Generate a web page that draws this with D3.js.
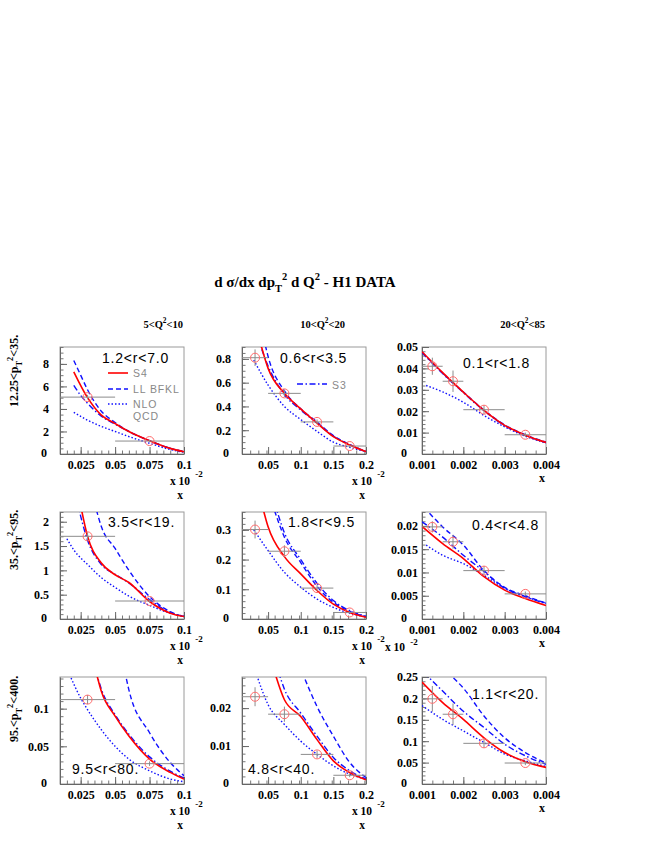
<!DOCTYPE html>
<html><head><meta charset="utf-8">
<script src="https://cdn.jsdelivr.net/npm/d3@7"></script>
<style>body{margin:0;background:#fff}svg{display:block}</style>
</head><body><svg id="c" width="654" height="846"></svg>
<script>
// ---------------- DATA ----------------
const colTitles = [["5<Q","2","<10"],["10<Q","2","<20"],["20<Q","2","<85"]];
const rowTitles = [["12.25<p","T","2","<35."],["35.<p","T","2","<95."],["95.<p","T","2","<400."]];
const rLabels = ["1.2<r<7.0","0.6<r<3.5","0.1<r<1.8","3.5<r<19.","1.8<r<9.5","0.4<r<4.8","9.5<r<80.","4.8<r<40.","1.1<r<20."];
const legendNames = ["S4","LL BFKL","NLO","QCD","S3"];

const colXDomain = [[0.01,0.1],[0.01,0.2],[0.001,0.004]];
const colXTicks = [[0.025,0.05,0.075,0.1],[0.05,0.1,0.15,0.2],[0.001,0.002,0.003,0.004]];
const colXMinor = [0.005,0.0125,0.00025];

const yMax = [9.5,0.9,0.05, 2.2,0.36,0.023, 0.142,0.0282,0.25];
const yTicks = [[0,2,4,6,8],[0,0.2,0.4,0.6,0.8],[0,0.01,0.02,0.03,0.04,0.05],
                [0,0.5,1,1.5,2],[0,0.1,0.2,0.3],[0,0.005,0.01,0.015,0.02],
                [0,0.05,0.1],[0,0.01,0.02],[0,0.05,0.1,0.15,0.2,0.25]];
const yMinor = [0.5,0.05,0.002, 0.1,0.02,0.001, 0.01,0.002,0.01];

// data points: bins and x centres by column
const colBins = [[[0.01,0.05],[0.05,0.1]],
                 [[0.01,0.05],[0.05,0.1],[0.1,0.15],[0.15,0.2]],
                 [[0.001,0.0015],[0.0015,0.002],[0.002,0.003],[0.003,0.004]]];
const colPtX = [[0.03,0.075],[0.03,0.075,0.125,0.175],[0.00125,0.00175,0.0025,0.0035]];
const dataY = [[5.05,1.15],[0.81,0.51,0.27,0.067],[0.041,0.034,0.0207,0.009],
               [1.70,0.37],[0.301,0.228,0.104,0.022],[0.0198,0.0166,0.0104,0.0054],
               [0.112,0.027],[0.023,0.0184,0.0078,0.0023],[0.199,0.163,0.095,0.049]];
const dataErr = [[0.2,0.1],[0.07,0.03,0.02,0.01],[0.004,0.005,0.002,0.001],
                 [0.08,0.03],[0.03,0.02,0.01,0.004],[0.0012,0.0015,0.001,0.0005],
                 [0.006,0.003],[0.0025,0.002,0.001,0.0005],[0.03,0.025,0.01,0.005]];

// model curves [x,y] per panel
const S4 = [
 [[0.02,7.3],[0.03,5.0],[0.04,3.45],[0.05,2.7],[0.06,2.0],[0.075,1.18],[0.09,0.5],[0.1,0.2]],
 [[0.036,0.98],[0.05,0.72],[0.075,0.51],[0.1,0.38],[0.125,0.26],[0.15,0.146],[0.175,0.076],[0.2,0.02]],
 [[0.001,0.0478],[0.0015,0.038],[0.002,0.0289],[0.0025,0.0204],[0.003,0.0134],[0.0035,0.0088],[0.004,0.0054]],
 [[0.0245,2.4],[0.03,1.70],[0.04,1.15],[0.05,0.91],[0.06,0.75],[0.075,0.36],[0.09,0.12],[0.1,0.05]],
 [[0.04,0.39],[0.05,0.31],[0.075,0.21],[0.1,0.152],[0.125,0.096],[0.15,0.05],[0.175,0.022],[0.2,0.006]],
 [[0.001,0.0199],[0.0015,0.0162],[0.002,0.013],[0.0025,0.0091],[0.003,0.0062],[0.0035,0.0044],[0.004,0.0029]],
 [[0.036,0.15],[0.04,0.123],[0.05,0.09],[0.06,0.0636],[0.075,0.033],[0.09,0.0154],[0.1,0.0066]],
 [[0.06,0.0295],[0.075,0.0222],[0.1,0.0178],[0.125,0.0117],[0.15,0.0061],[0.175,0.003],[0.2,0.0011]],
 [[0.001,0.238],[0.0015,0.19],[0.002,0.151],[0.0025,0.108],[0.003,0.0735],[0.0035,0.052],[0.004,0.0387]]
];
const LLBFKL = [
 [[0.02,8.3],[0.025,7.0],[0.03,5.7],[0.04,3.8],[0.05,2.8],[0.06,2.0],[0.075,1.18],[0.09,0.5],[0.1,0.2]],
 [[0.043,0.98],[0.05,0.82],[0.075,0.53],[0.1,0.38],[0.125,0.27],[0.15,0.155],[0.175,0.08],[0.2,0.022]],
 [[0.001,0.0476],[0.0015,0.0378],[0.002,0.029],[0.0025,0.0205],[0.003,0.0136],[0.0035,0.009],[0.004,0.0056]],
 [[0.035,2.4],[0.04,1.9],[0.05,1.45],[0.06,1.0],[0.075,0.46],[0.09,0.15],[0.1,0.05]],
 [[0.056,0.39],[0.075,0.275],[0.1,0.19],[0.125,0.11],[0.15,0.056],[0.175,0.026],[0.2,0.008]],
 [[0.00105,0.0240],[0.0015,0.0198],[0.002,0.0159],[0.0025,0.0104],[0.003,0.0068],[0.0035,0.005],[0.004,0.0034]],
 [[0.057,0.15],[0.06,0.125],[0.075,0.068],[0.09,0.0285],[0.1,0.011]],
 [[0.102,0.0295],[0.125,0.0204],[0.15,0.0126],[0.175,0.0057],[0.2,0.0017]],
 [[0.00162,0.26],[0.002,0.224],[0.0025,0.159],[0.003,0.108],[0.0035,0.0735],[0.004,0.0488]]
];
const S3 = [
 [[0.02,6.1],[0.025,5.2],[0.03,4.5],[0.04,3.35],[0.05,2.65],[0.06,2.0],[0.075,1.18],[0.09,0.5],[0.1,0.2]],
 [[0.034,0.98],[0.05,0.74],[0.075,0.50],[0.1,0.37],[0.125,0.26],[0.15,0.15],[0.175,0.078],[0.2,0.02]],
 [[0.001,0.0474],[0.0015,0.0376],[0.002,0.0287],[0.0025,0.0202],[0.003,0.0133],[0.0035,0.0087],[0.004,0.0053]],
 [[0.0225,2.4],[0.03,1.62],[0.04,1.12],[0.05,0.92],[0.06,0.74],[0.075,0.40],[0.09,0.13],[0.1,0.05]],
 [[0.06,0.39],[0.075,0.29],[0.1,0.20],[0.125,0.12],[0.15,0.062],[0.175,0.028],[0.2,0.009]],
 [[0.001,0.0209],[0.0015,0.0176],[0.002,0.0137],[0.0025,0.0102],[0.003,0.0066],[0.0035,0.0048],[0.004,0.0033]],
 [[0.036,0.15],[0.04,0.126],[0.05,0.092],[0.06,0.066],[0.075,0.036],[0.09,0.017],[0.1,0.008]],
 [[0.066,0.0295],[0.075,0.025],[0.1,0.0187],[0.125,0.0126],[0.15,0.007],[0.175,0.0035],[0.2,0.0013]],
 [[0.00105,0.26],[0.0015,0.217],[0.002,0.17],[0.0025,0.132],[0.003,0.093],[0.0035,0.066],[0.004,0.046]]
];
const NLO = [
 [[0.02,3.7],[0.03,3.0],[0.04,2.45],[0.05,2.0],[0.06,1.55],[0.075,0.95],[0.09,0.4],[0.1,0.15]],
 [[0.028,0.79],[0.05,0.58],[0.075,0.40],[0.1,0.29],[0.125,0.19],[0.15,0.10],[0.175,0.056],[0.2,0.02]],
 [[0.0011,0.032],[0.0015,0.029],[0.002,0.0242],[0.0025,0.018],[0.003,0.0127],[0.0035,0.0083],[0.004,0.0052]],
 [[0.015,1.65],[0.02,1.42],[0.03,1.12],[0.04,0.85],[0.05,0.65],[0.06,0.47],[0.075,0.28],[0.09,0.12],[0.1,0.06]],
 [[0.028,0.30],[0.05,0.23],[0.075,0.157],[0.1,0.107],[0.125,0.067],[0.15,0.039],[0.175,0.019],[0.2,0.008]],
 [[0.0011,0.0159],[0.0015,0.0137],[0.002,0.0119],[0.0025,0.0094],[0.003,0.0066],[0.0035,0.0048],[0.004,0.0034]],
 [[0.017,0.145],[0.025,0.114],[0.03,0.0987],[0.04,0.072],[0.05,0.05],[0.06,0.033],[0.075,0.0175],[0.09,0.0066],[0.1,0.003]],
 [[0.031,0.0295],[0.05,0.0209],[0.075,0.0157],[0.1,0.0113],[0.125,0.0078],[0.15,0.0048],[0.175,0.0026],[0.2,0.0013]],
 [[0.001,0.183],[0.0015,0.151],[0.002,0.124],[0.0025,0.097],[0.003,0.07],[0.0035,0.054],[0.004,0.041]]
];

// ---------------- LAYOUT ----------------
const svg = d3.select("#c");
const panelLeft = [60,242,422], panelTop = [347,512,677];
const PW = 124, PH = 107;
const serif = "'Liberation Serif','Times New Roman',serif";
const sans = "'Liberation Sans',Arial,sans-serif";
const RED = "#ff0000", BLUE = "#1010ff", GRAY = "#8c8c8c", CIRC = "#ff6a6a";
const labelGap = [11,11,4];
const zeroShift = [2,2,11];

function rich(sel, parts, size){
  let cur = 0;
  parts.forEach(([t,m])=>{
    const target = m==='sub'? size*0.3 : m==='sup'? -size*0.45 : 0;
    const fs = m==='n'? size : size*0.7;
    sel.append("tspan").attr("dy", target-cur).attr("font-size", fs).text(t);
    cur = target;
  });
}

// title
const title = svg.append("text").attr("x",305).attr("y",287).attr("text-anchor","middle")
  .attr("font-family",serif).attr("font-weight","bold").attr("font-size",15);
rich(title, [["d σ/dx dp","n"],["T","sub"],["2","sup"],[" d Q","n"],["2","sup"],[" - H1 DATA","n"]], 15);

// column titles
const colTitleRight = [183,345,545];
colTitles.forEach((ct,c)=>{
  const t = svg.append("text").attr("x",colTitleRight[c]).attr("y",328).attr("text-anchor","end")
    .attr("font-family",serif).attr("font-weight","bold").attr("font-size",10.5);
  rich(t, [[ct[0],"n"],[ct[1],"sup"],[ct[2],"n"]], 10.5);
});

// row titles
const rowStart = [407,570,742];
rowTitles.forEach((rt,r)=>{
  const t = svg.append("text").attr("transform",`translate(18,${rowStart[r]}) rotate(-90)`)
    .attr("font-family",serif).attr("font-weight","bold").attr("font-size",12);
  rich(t, [[rt[0],"n"],[rt[1],"sub"],[rt[2],"sup"],[rt[3],"n"]], 12);
});

const lineGen = (x,y)=> d3.line().x(d=>x(d[0])).y(d=>y(d[1])).curve(d3.curveMonotoneX);
const styles = [
  {arr:NLO, color:BLUE, dash:"1.5,2", w:1.4},
  {arr:S3, color:BLUE, dash:"6,2.5,1.5,2.5", w:1.4},
  {arr:LLBFKL, color:BLUE, dash:"5,3", w:1.4},
  {arr:S4, color:RED, dash:null, w:1.6}
];

for(let r=0;r<3;r++) for(let c=0;c<3;c++){
  const i = r*3+c;
  const L = panelLeft[c], T = panelTop[r];
  const x = d3.scaleLinear().domain(colXDomain[c]).range([0,PW]);
  const y = d3.scaleLinear().domain([0,yMax[i]]).range([PH,0]);
  const g = svg.append("g").attr("transform",`translate(${L},${T})`);
  const cid = "clip"+i;
  g.append("clipPath").attr("id",cid).append("rect").attr("width",PW).attr("height",PH);

  g.append("rect").attr("width",PW).attr("height",PH).attr("fill","none").attr("stroke","#9a9a9a").attr("stroke-width",1);

  const xm = d3.range(colXDomain[c][0], colXDomain[c][1]+1e-12, colXMinor[c]);
  g.append("g").attr("transform",`translate(0,${PH})`)
    .call(d3.axisBottom(x).tickValues(xm).tickSize(-3.5).tickSizeOuter(0).tickFormat(""))
    .call(s=>{s.select(".domain").remove(); s.selectAll("line").attr("stroke","#777");});
  const ym = d3.range(0, yMax[i]+1e-12, yMinor[i]);
  g.append("g").call(d3.axisLeft(y).tickValues(ym).tickSize(-3.5).tickSizeOuter(0).tickFormat(""))
    .call(s=>{s.select(".domain").remove(); s.selectAll("line").attr("stroke","#777");});

  g.append("g").attr("transform",`translate(0,${PH})`)
    .call(d3.axisBottom(x).tickValues(colXTicks[c]).tickSize(-7).tickSizeOuter(0).tickPadding(6).tickFormat(d3.format("~g")))
    .call(s=>{
      s.select(".domain").attr("stroke","#666");
      s.selectAll("line").attr("stroke","#666");
      s.selectAll("text").attr("font-family",serif).attr("font-weight","bold").attr("font-size",12).attr("fill","#000");
    });
  g.append("g")
    .call(d3.axisLeft(y).tickValues(yTicks[i]).tickSize(-7).tickSizeOuter(0).tickPadding(labelGap[c]).tickFormat(d3.format("~g")))
    .call(s=>{
      s.select(".domain").attr("stroke","#666");
      s.selectAll("line").attr("stroke","#666");
      s.selectAll("text").attr("font-family",serif).attr("font-weight","bold").attr("font-size",12).attr("fill","#000")
        .filter(d=>d===0).attr("x",-(labelGap[c]+zeroShift[c])).attr("dy","0.2em");
    });

  const cg = g.append("g").attr("clip-path",`url(#${cid})`);
  styles.forEach(st=>{
    cg.append("path").datum(st.arr[i]).attr("d",lineGen(x,y)).attr("fill","none")
      .attr("stroke",st.color).attr("stroke-width",st.w).attr("stroke-dasharray",st.dash);
  });

  const pts = colPtX[c].map((px,k)=>({x:px, y:dataY[i][k], e:dataErr[i][k], b:colBins[c][k]}));
  const dg = g.append("g").attr("clip-path",`url(#${cid})`);
  dg.selectAll(".hb").data(pts).join("line")
    .attr("x1",d=>x(d.b[0])).attr("x2",d=>x(d.b[1])).attr("y1",d=>y(d.y)).attr("y2",d=>y(d.y))
    .attr("stroke",GRAY).attr("stroke-width",1);
  dg.selectAll(".vb").data(pts).join("line")
    .attr("x1",d=>x(d.x)).attr("x2",d=>x(d.x)).attr("y1",d=>y(d.y-d.e)).attr("y2",d=>y(d.y+d.e))
    .attr("stroke",GRAY).attr("stroke-width",1);
  dg.selectAll("circle").data(pts).join("circle")
    .attr("cx",d=>x(d.x)).attr("cy",d=>y(d.y)).attr("r",4.5)
    .attr("fill","none").attr("stroke",CIRC).attr("stroke-width",1);

  const R = L+PW, B = T+PH;
  if(c<2){
    svg.append("text").attr("x",R-4).attr("y",B+31).attr("text-anchor","middle")
      .attr("font-family",serif).attr("font-weight","bold").attr("font-size",11.5).text("x 10");
    svg.append("text").attr("x",R+15).attr("y",B+23).attr("text-anchor","middle")
      .attr("font-family",serif).attr("font-weight","bold").attr("font-size",9).text("-2");
    svg.append("text").attr("x",R-4).attr("y",B+45).attr("text-anchor","middle")
      .attr("font-family",serif).attr("font-weight","bold").attr("font-size",11.5).text("x");
  } else {
    svg.append("text").attr("x",R-4).attr("y",B+28).attr("text-anchor","middle")
      .attr("font-family",serif).attr("font-weight","bold").attr("font-size",12).text("x");
  }
}
// stray multiplier in middle row
svg.append("text").attr("x",395).attr("y",panelTop[1]+PH+32).attr("text-anchor","middle")
  .attr("font-family",serif).attr("font-weight","bold").attr("font-size",11.5).text("x 10");
svg.append("text").attr("x",414).attr("y",panelTop[1]+PH+26).attr("text-anchor","middle")
  .attr("font-family",serif).attr("font-weight","bold").attr("font-size",9).text("-2");

// range labels
const rPos = [[102,363],[280,363],[463,368],[108,527],[288,527],[472,530],[72,774],[248,774],[472,699]];
rLabels.forEach((t,i)=>{
  svg.append("text").attr("x",rPos[i][0]).attr("y",rPos[i][1]).attr("font-family",sans)
    .attr("font-size",14).attr("letter-spacing",0.8).attr("fill","#000").text(t);
});

// legend (panel 1,1 and 1,2)
const leg = [
  {name:legendNames[0], color:RED, dash:null, lx:108, ly:373, tx:133, ty:377},
  {name:legendNames[1], color:BLUE, dash:"5,3", lx:108, ly:389, tx:133, ty:393},
  {name:legendNames[2], color:BLUE, dash:"1.5,2", lx:108, ly:404, tx:133, ty:407.5},
  {name:legendNames[3], color:null, dash:null, lx:0, ly:0, tx:133, ty:419.5},
  {name:legendNames[4], color:BLUE, dash:"6,2.5,1.5,2.5", lx:297, ly:384, tx:332, ty:389, len:30}
];
leg.forEach(d=>{
  if(d.color) svg.append("line").attr("x1",d.lx).attr("x2",d.lx+(d.len||20)).attr("y1",d.ly).attr("y2",d.ly)
    .attr("stroke",d.color).attr("stroke-width",d.color===RED?1.6:1.4).attr("stroke-dasharray",d.dash);
  svg.append("text").attr("x",d.tx).attr("y",d.ty).attr("font-family",sans).attr("font-size",10.5)
    .attr("letter-spacing",0.9).attr("fill","#888").text(d.name);
});
</script></body></html>
